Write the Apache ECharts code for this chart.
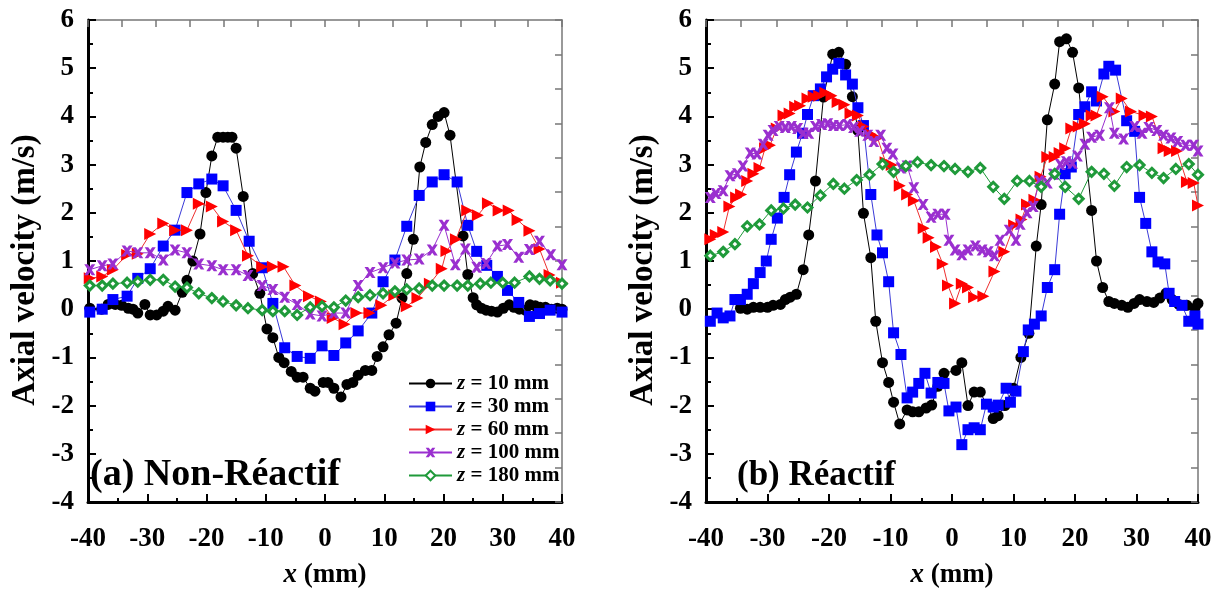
<!DOCTYPE html>
<html>
<head>
<meta charset="utf-8">
<script src="https://cdn.jsdelivr.net/npm/echarts@6/dist/echarts.min.js"></script>
<style>html,body{margin:0;padding:0;background:#fff}#c{width:1222px;height:594px}</style>
</head>
<body>
<div id="c"></div>
<script>
// ---- DATA ----
const xTicks = [-40, -30, -20, -10, 0, 10, 20, 30, 40];
const yTicks = [-4, -3, -2, -1, 0, 1, 2, 3, 4, 5, 6];
const seriesNames = ['z = 10 mm', 'z = 30 mm', 'z = 60 mm', 'z = 100 mm', 'z = 180 mm'];

// (a) Non-Réactif
const nr10 = [[-39.7,0.02],[-37.7,0.0],[-36.6,0.1],[-35.4,0.1],[-34.3,0.08],[-33.2,0.02],[-32.4,0.0],[-31.6,-0.08],[-30.4,0.1],[-29.5,-0.12],[-28.4,-0.12],[-27.3,-0.04],[-26.5,0.06],[-25.3,-0.02],[-24.1,0.35],[-23.3,0.6],[-22.3,1.0],[-21.1,1.56],[-20.1,2.42],[-19.1,3.18],[-18.1,3.57],[-17.2,3.57],[-16.4,3.57],[-15.7,3.57],[-15.0,3.34],[-13.8,2.34],[-12.2,0.74],[-11.0,0.33],[-9.8,-0.41],[-8.8,-0.59],[-7.8,-1.0],[-6.9,-1.11],[-5.7,-1.29],[-4.7,-1.41],[-3.7,-1.41],[-2.5,-1.64],[-1.7,-1.70],[-0.3,-1.52],[0.5,-1.52],[1.5,-1.64],[2.7,-1.82],[3.7,-1.56],[4.7,-1.52],[5.6,-1.37],[6.8,-1.27],[7.9,-1.27],[8.8,-0.98],[9.8,-0.78],[10.8,-0.53],[12.0,-0.29],[13.0,0.23],[13.8,0.74],[14.9,1.45],[16.0,2.95],[17.0,3.46],[18.1,3.83],[19.1,4.0],[20.1,4.08],[21.1,3.61],[23.3,1.52],[24.1,0.72],[25.0,0.24],[25.6,0.09],[26.4,0.02],[27.2,-0.02],[28.1,-0.04],[29.1,-0.06],[30.1,0.02],[31.1,0.09],[31.9,0.04],[32.8,0.0],[33.8,-0.02],[34.6,0.09],[35.5,0.07],[36.3,0.04],[37.2,0.04],[38.2,0.0],[39.2,0.02],[40,0.0]];
const nr30 = [[-39.7,-0.06],[-37.6,0.0],[-35.8,0.2],[-33.4,0.27],[-31.6,0.64],[-29.5,0.84],[-27.3,1.31],[-25.3,1.64],[-23.3,2.42],[-21.3,2.6],[-19.1,2.7],[-17.2,2.56],[-15.0,2.05],[-12.8,1.41],[-10.6,0.86],[-8.8,0.12],[-6.8,-0.8],[-4.7,-0.98],[-2.5,-1.02],[-0.5,-0.76],[1.5,-0.96],[3.5,-0.7],[5.6,-0.45],[7.9,-0.08],[9.8,0.57],[11.8,1.02],[13.8,1.72],[15.9,2.36],[18.1,2.64],[20.1,2.79],[22.3,2.64],[24.1,1.74],[25.6,1.2],[27.3,0.91],[29.1,0.68],[30.8,0.39],[32.7,0.14],[34.5,-0.15],[36.2,-0.09],[38.0,-0.02],[40,-0.06]];
const nr60 = [[-39.7,0.64],[-37.6,0.68],[-35.8,0.82],[-33.4,1.13],[-31.6,1.15],[-29.5,1.56],[-27.3,1.78],[-25.3,1.64],[-23.3,1.64],[-21.3,2.19],[-19.1,2.13],[-17.2,1.82],[-15.0,1.64],[-13.0,1.11],[-10.6,0.88],[-8.8,0.88],[-7.0,0.88],[-5.0,0.49],[-2.7,0.27],[-0.7,0.16],[1.3,-0.18],[3.3,-0.31],[5.3,-0.08],[7.5,-0.08],[9.5,0.08],[11.7,0.29],[13.8,0.06],[15.6,0.23],[17.7,0.53],[19.7,0.84],[20.5,1.21],[22.1,1.45],[24.0,2.05],[25.8,1.95],[27.5,2.2],[29.3,2.05],[31.0,2.05],[32.5,1.85],[34.5,1.63],[36.2,1.25],[37.9,0.71],[40,0.55]];
const nr100 = [[-39.7,0.82],[-37.6,0.9],[-35.8,0.94],[-33.4,1.21],[-31.6,1.17],[-29.5,1.17],[-27.3,1.02],[-25.3,1.23],[-23.3,1.17],[-21.3,0.94],[-19.1,0.9],[-17.2,0.82],[-15.0,0.82],[-13.0,0.7],[-10.6,0.49],[-8.8,0.41],[-6.8,0.25],[-4.7,0.1],[-2.5,-0.1],[-0.5,-0.14],[1.5,-0.08],[3.5,-0.08],[5.6,0.49],[7.6,0.76],[9.8,0.86],[11.8,0.96],[13.8,1.02],[15.9,1.04],[18.1,1.23],[20.1,1.74],[22.0,0.92],[23.7,1.25],[25.6,0.87],[27.2,0.95],[29.1,1.31],[30.8,1.34],[32.7,1.08],[34.5,1.24],[36.2,1.41],[38.1,1.13],[40,0.92]];
const nr180 = [[-39.7,0.49],[-37.6,0.49],[-35.8,0.53],[-33.4,0.55],[-31.6,0.57],[-29.5,0.61],[-27.3,0.61],[-25.3,0.47],[-23.3,0.45],[-21.3,0.33],[-19.1,0.23],[-17.2,0.16],[-15.0,0.08],[-13.0,0.02],[-10.6,-0.02],[-8.8,-0.04],[-6.8,-0.04],[-4.7,-0.12],[-2.5,0.04],[-0.5,0.06],[1.5,0.04],[3.5,0.18],[5.6,0.25],[7.6,0.29],[9.8,0.33],[11.8,0.37],[13.8,0.41],[15.9,0.43],[18.1,0.49],[20.1,0.49],[22.3,0.49],[24.1,0.49],[26.2,0.53],[28.0,0.55],[30.0,0.55],[32.0,0.55],[34.5,0.68],[36.2,0.63],[38.0,0.6],[40,0.53]];

// (b) Réactif
const r10 = [[-34.4,0.02],[-33.3,0.0],[-32.3,0.04],[-31.2,0.04],[-30.0,0.04],[-29.1,0.08],[-27.9,0.1],[-27.1,0.2],[-26.3,0.25],[-25.3,0.31],[-24.2,0.82],[-23.3,1.54],[-22.2,2.66],[-20.9,4.4],[-19.4,5.29],[-18.4,5.33],[-17.3,5.08],[-16.2,4.41],[-15.3,3.71],[-14.4,1.99],[-13.2,1.07],[-12.4,-0.25],[-11.3,-1.11],[-10.3,-1.52],[-9.5,-1.93],[-8.5,-2.38],[-7.3,-2.09],[-6.4,-2.13],[-5.4,-2.13],[-4.2,-2.05],[-3.3,-1.99],[-2.3,-1.6],[-1.3,-1.33],[0.65,-1.27],[1.6,-1.11],[2.6,-2.0],[3.6,-1.72],[4.6,-1.72],[6.7,-2.27],[7.5,-2.21],[8.6,-2.0],[10.0,-1.64],[11.2,-1.0],[12.5,-0.5],[13.7,1.31],[14.5,2.17],[15.5,3.93],[16.7,4.67],[17.5,5.55],[18.6,5.61],[19.6,5.33],[20.6,4.59],[22.7,2.05],[23.5,1.0],[24.5,0.45],[25.5,0.16],[26.4,0.12],[27.6,0.08],[28.6,0.04],[29.6,0.12],[30.5,0.2],[31.7,0.16],[32.8,0.14],[33.8,0.23],[34.8,0.33],[35.8,0.2],[36.9,0.1],[38.2,0.08],[39.5,0.02],[40,0.12]];
const r30 = [[-39.3,-0.25],[-38.2,-0.08],[-37.2,-0.18],[-36.1,-0.14],[-35.3,0.2],[-34.4,0.2],[-33.3,0.31],[-32.3,0.53],[-31.2,0.76],[-30.2,1.0],[-29.4,1.45],[-28.4,1.89],[-27.3,2.32],[-26.4,2.79],[-25.3,3.26],[-24.3,3.65],[-23.5,4.04],[-22.5,4.43],[-21.4,4.57],[-20.4,4.82],[-19.4,4.98],[-18.4,5.1],[-17.3,4.86],[-16.2,4.67],[-15.3,4.18],[-14.4,3.81],[-13.2,2.38],[-12.2,1.54],[-11.3,1.17],[-10.3,0.57],[-9.5,-0.49],[-8.3,-0.94],[-7.3,-1.84],[-6.4,-1.72],[-5.4,-1.54],[-4.4,-1.33],[-3.4,-1.74],[-2.3,-1.52],[-1.3,-1.54],[-0.5,-2.11],[0.65,-2.03],[1.6,-2.81],[2.6,-2.5],[3.6,-2.46],[4.6,-2.5],[5.6,-1.97],[6.7,-2.03],[7.5,-1.99],[8.8,-1.64],[9.5,-1.93],[10.4,-1.7],[11.6,-0.88],[12.4,-0.43],[13.4,-0.31],[14.5,-0.14],[15.5,0.45],[16.7,0.82],[17.5,1.97],[18.4,2.81],[19.4,2.95],[20.6,4.04],[21.6,4.2],[22.7,4.51],[23.5,4.32],[24.7,4.88],[25.5,5.04],[26.6,4.96],[28.4,3.91],[29.7,3.69],[30.5,2.32],[31.5,1.78],[32.5,1.19],[33.5,0.98],[34.6,0.94],[35.3,0.33],[36.2,0.16],[37.4,0.08],[38.5,-0.25],[39.5,-0.14],[40,-0.31]];
const r60 = [[-39.3,1.45],[-38.4,1.54],[-37.2,1.6],[-36.2,2.13],[-35.1,2.32],[-34.3,2.38],[-33.3,2.66],[-32.3,2.81],[-31.3,2.93],[-30.4,3.34],[-29.6,3.4],[-28.5,3.75],[-27.4,4.02],[-26.4,4.06],[-25.5,4.2],[-24.7,4.22],[-23.5,4.37],[-22.5,4.41],[-21.6,4.43],[-20.6,4.49],[-19.6,4.43],[-18.6,4.3],[-17.5,4.24],[-16.5,4.06],[-15.3,4.02],[-14.4,3.79],[-13.2,3.63],[-12.1,3.55],[-10.8,3.05],[-9.8,2.99],[-8.5,2.56],[-7.3,2.38],[-6.2,2.25],[-4.6,1.68],[-3.8,1.48],[-2.6,1.29],[-1.5,0.94],[-0.65,0.49],[0.5,0.12],[1.6,0.53],[2.6,0.45],[3.6,0.25],[5.1,0.27],[6.9,0.78],[8.5,1.19],[10.1,1.74],[11.3,1.86],[12.2,2.17],[13.4,2.27],[14.4,2.75],[15.5,3.16],[16.7,3.16],[17.5,3.24],[18.4,3.34],[19.4,3.75],[20.6,3.79],[21.6,3.85],[22.7,4.02],[23.5,4.02],[24.5,4.41],[26.4,4.1],[27.6,4.37],[29.1,4.1],[31.3,4.02],[32.5,4.0],[34.4,3.34],[35.4,3.28],[36.6,3.28],[38.2,2.64],[39.3,2.62],[40,2.15]];
const r100 = [[-39.3,2.32],[-38.4,2.4],[-37.2,2.46],[-36.1,2.77],[-34.9,2.81],[-34.0,2.97],[-32.8,3.24],[-31.7,3.22],[-30.7,3.42],[-29.9,3.61],[-29.1,3.71],[-28.1,3.79],[-27.1,3.77],[-26.1,3.79],[-25.1,3.75],[-24.2,3.65],[-23.3,3.65],[-22.2,3.79],[-21.2,3.83],[-20.2,3.85],[-19.3,3.81],[-18.3,3.81],[-17.0,3.83],[-16.0,3.77],[-15.0,3.69],[-13.7,3.61],[-12.7,3.48],[-11.6,3.61],[-10.6,3.34],[-9.6,3.22],[-8.3,2.93],[-7.3,2.97],[-6.2,2.52],[-4.7,2.17],[-3.4,1.91],[-2.3,1.97],[-1.1,1.97],[-0.5,1.43],[0.5,1.23],[1.6,1.13],[2.6,1.23],[3.8,1.31],[4.9,1.23],[5.9,1.19],[6.9,1.11],[7.8,1.43],[9.3,1.64],[10.4,1.43],[11.1,1.76],[12.2,2.0],[13.2,2.13],[14.2,2.66],[15.5,2.62],[16.5,2.8],[17.6,3.0],[18.6,3.06],[19.6,3.03],[20.4,3.18],[21.6,3.42],[22.7,3.57],[24.0,3.61],[25.6,4.18],[26.4,3.65],[27.9,3.53],[29.7,3.79],[30.9,3.65],[32.0,3.77],[33.3,3.71],[34.4,3.61],[35.6,3.55],[36.7,3.48],[38.0,3.40],[39.3,3.40],[40,3.28]];
const r180 = [[-39.3,1.11],[-37.2,1.19],[-35.3,1.35],[-33.3,1.72],[-31.3,1.76],[-29.4,2.05],[-27.4,2.09],[-25.5,2.17],[-23.5,2.11],[-21.4,2.36],[-19.3,2.6],[-17.5,2.5],[-15.5,2.68],[-13.4,2.79],[-11.3,3.01],[-9.5,2.85],[-7.5,2.97],[-5.6,3.05],[-3.4,2.99],[-1.3,2.97],[0.5,2.91],[2.6,2.85],[4.6,2.93],[6.7,2.54],[8.5,2.29],[10.6,2.66],[12.6,2.66],[14.5,2.54],[16.7,2.81],[18.4,2.54],[20.6,2.29],[22.7,2.85],[24.7,2.81],[26.4,2.56],[28.4,2.95],[30.5,2.99],[32.5,2.83],[34.4,2.72],[36.4,2.91],[38.5,3.01],[40,2.79]];

// ---- STYLES ----
const FONT = '"Liberation Serif", "Times New Roman", serif';
const styles = [
  {symbol:'circle', size:11, color:'#000000', line:'#000000', rotate:0},
  {symbol:'rect', size:11, color:'#0000ff', line:'#3a3ad8', rotate:0},
  {symbol:'triangle', size:12, color:'#ff0000', line:'#ee3030', rotate:-90},
  {symbol:'path://M0,0 L3.2,0 L5,2.4 L6.8,0 L10,0 L6.7,5 L10,10 L6.8,10 L5,7.6 L3.2,10 L0,10 L3.3,5 Z', size:11, color:'#9a2fcf', line:'#9a2fcf', rotate:0},
  {symbol:'diamond', size:9, color:'#ffffff', border:'#1f9a3a', line:'#1f9a3a', rotate:0}
];

const leftData = [nr10, nr30, nr60, nr100, nr180];
const rightData = [r10, r30, r60, r100, r180];

function mkSeries(data, i, axisIdx, name) {
  const s = styles[i];
  return {
    type:'line', name:name, xAxisIndex:axisIdx, yAxisIndex:axisIdx,
    data:data, symbol:s.symbol, symbolSize:s.size, symbolRotate:s.rotate,
    showAllSymbol:true, animation:false,
    lineStyle:{color:s.line, width:1},
    itemStyle:{color:s.color, borderColor:s.border || s.color, borderWidth:s.border ? 3 : 0},
    z: 2 + i
  };
}

const series = [];
leftData.forEach((d,i)=>series.push(mkSeries(d,i,0,seriesNames[i])));
rightData.forEach((d,i)=>series.push(mkSeries(d,i,2,'R'+seriesNames[i])));

const lbl = {fontFamily:FONT, fontWeight:'bold', fontSize:27, color:'#000'};

function xAxes(gridIndex) {
  return [
    {type:'value', gridIndex, position:'bottom', min:xTicks[0], max:xTicks[xTicks.length-1], interval:10,
     axisLine:{onZero:false, lineStyle:{color:'#000', width:3}},
     axisTick:{inside:true, length:8, lineStyle:{width:2, color:'#000'}},
     minorTick:{show:true, splitNumber:2, length:4, lineStyle:{width:2, color:'#000'}},
     splitLine:{show:false},
     axisLabel:Object.assign({margin:24, formatter:v=>String(v)}, lbl),
     name:'{i|x} (mm)', nameLocation:'middle', nameGap:60,
     nameTextStyle:{fontFamily:FONT, fontWeight:'bold', fontSize:27, color:'#000',
       rich:{i:{fontFamily:FONT, fontWeight:'bold', fontStyle:'italic', fontSize:27, color:'#000'}}}},
    // opposite frame side (top): own tick spacing, no labels
    {type:'value', gridIndex, position:'top', min:0, max:14, interval:1,
     axisLine:{onZero:false, lineStyle:{color:'#777', width:1.5}},
     axisTick:{inside:true, length:7, lineStyle:{width:1.5, color:'#777'}},
     minorTick:{show:false}, splitLine:{show:false}, axisLabel:{show:false}}
  ];
}
function yAxes(gridIndex) {
  return [
    {type:'value', gridIndex, position:'left', min:yTicks[0], max:yTicks[yTicks.length-1], interval:1,
     axisLine:{onZero:false, lineStyle:{color:'#000', width:3}},
     axisTick:{inside:true, length:8, lineStyle:{width:2, color:'#000'}},
     minorTick:{show:true, splitNumber:2, length:5, lineStyle:{width:2, color:'#000'}},
     splitLine:{show:false},
     axisLabel:Object.assign({margin:14}, lbl),
     name:'Axial velocity (m/s)', nameLocation:'middle', nameGap:46, nameRotate:90,
     nameTextStyle:{fontFamily:FONT, fontWeight:'bold', fontSize:33, color:'#000', padding:[0,18,0,0]}},
    // opposite frame side (right)
    {type:'value', gridIndex, position:'right', min:0, max:14, interval:1,
     axisLine:{onZero:false, lineStyle:{color:'#777', width:1.5}},
     axisTick:{inside:true, length:7, lineStyle:{width:1.5, color:'#777'}},
     minorTick:{show:false}, splitLine:{show:false}, axisLabel:{show:false}}
  ];
}

const xa = xAxes(0).concat(xAxes(1));
const ya = yAxes(0).concat(yAxes(1));

const chart = echarts.init(document.getElementById('c'), null, {renderer:'canvas'});
chart.setOption({
  backgroundColor:'#ffffff',
  animation:false,
  grid:[
    {left:88, top:20, width:474, height:488},
    {left:706, top:20, width:492, height:488}
  ],
  xAxis:xa,
  yAxis:ya,
  legend:{
    data:seriesNames, orient:'vertical', left:403, top:368, itemGap:2,
    itemWidth:43, itemHeight:12, selectedMode:false,
    formatter: n => '{i|z}{t|' + n.slice(1) + '}',
    textStyle:{fontFamily:FONT, fontWeight:'bold', fontSize:21, color:'#000',
      rich:{i:{fontFamily:FONT, fontWeight:'bold', fontStyle:'italic', fontSize:21, color:'#000'},
            t:{fontFamily:FONT, fontWeight:'bold', fontSize:21, color:'#000'}}}
  },
  graphic:[
    {type:'text', left:90, top:456, style:{text:'(a) Non-Réactif', font:'bold 38px "Liberation Serif", serif', fill:'#000'}},
    {type:'text', left:737, top:458, style:{text:'(b) Réactif', font:'bold 35px "Liberation Serif", serif', fill:'#000'}}
  ],
  series:series
});
</script>
</body>
</html>
